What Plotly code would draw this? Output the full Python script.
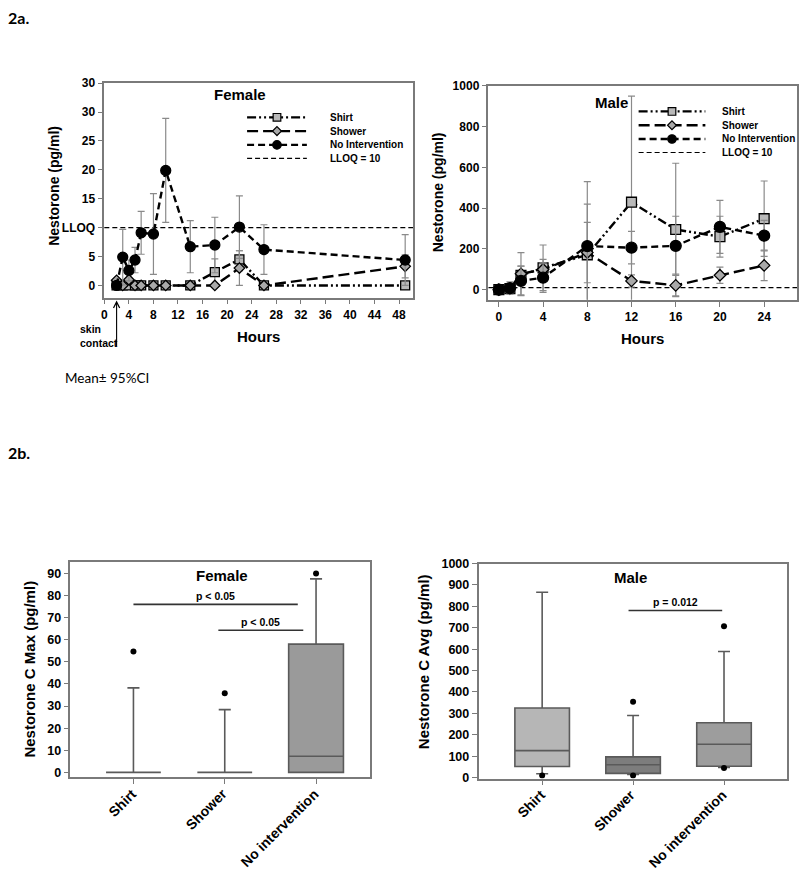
import plotly.graph_objects as go

# ---------------- DATA ----------------
LLOQ = 10
SKIN_CONTACT_H = 2

# 2a Female time course (Mean, 95% CI half-width)
F_HOURS = [2, 3, 4, 5, 6, 8, 10, 14, 18, 22, 26, 49]
F_SHIRT = [0, 0, 0, 0, 0, 0, 0, 0, 2.3, 4.5, 0, 0]
F_SHIRT_CI = [0, 0, 0, 0, 0, 0, 0, 0, 2.3, 1.5, 0, 0]
F_SHOWER = [0.9, 0, 1.0, 0, 0, 0, 0, 0, 0, 3.0, 0, 3.3]
F_SHOWER_CI = [0, 0, 0, 0, 0, 0, 0, 0, 0, 3.0, 0, 2.0]
F_NOINT = [0, 4.9, 2.6, 4.4, 9.1, 8.9, 19.9, 6.7, 7.0, 10.1, 6.2, 4.4]
F_NOINT_CI = [0, 4.8, 1.8, 2.2, 3.7, 7.0, 9.0, 4.5, 4.8, 5.4, 4.3, 4.4]
F_XTICKS = list(range(0, 49, 4))
F_YTICKVALS = [0, 5, 10, 15, 20, 25, 30, 35]
F_YTICKTEXT = ["0", "5", "LLOQ", "15", "20", "25", "30", "30"]

# 2a Male time course
M_HOURS = [0, 1, 2, 4, 8, 12, 16, 20, 24]
M_SHIRT = [0, 5, 70, 107, 171, 429, 295, 260, 348]
M_SHIRT_CI = [0, 20, 45, 112, 249, 520, 325, 100, 185]
M_SHOWER = [0, 5, 78, 99, 182, 43, 21, 71, 119]
M_SHOWER_CI = [0, 20, 104, 50, 148, 30, 55, 40, 75]
M_NOINT = [0, 8, 43, 59, 214, 206, 215, 308, 265]
M_NOINT_CI = [0, 30, 72, 72, 316, 80, 145, 130, 75]
M_XTICKS = [0, 4, 8, 12, 16, 20, 24]
M_YTICKS = [0, 200, 400, 600, 800, 1000]

LEGEND_NAMES = ["Shirt", "Shower", "No Intervention", "LLOQ = 10"]

# 2b box plots
BOX_CATS = ["Shirt", "Shower", "No intervention"]
F_Q1 = [0, 0, 0]
F_MED = [0, 0, 7.3]
F_Q3 = [0, 0, 58]
F_LO = [0, 0, 0]
F_HI = [38.2, 28.4, 87.5]
F_OUT = [[54.7], [35.8], [90]]
F_YTICKS_B = list(range(0, 91, 10))
F_SIG = [(0, 1.8, 76, "p < 0.05"), (0.93, 1.86, 64.3, "p < 0.05")]

M_Q1 = [52, 20, 53]
M_MED = [126, 60, 156]
M_Q3 = [325, 97, 256]
M_LO = [18, 15, 48]
M_HI = [866, 290, 589]
M_OUT = [[10], [354, 10], [707, 45]]
M_YTICKS_B = list(range(0, 1001, 100))
M_SIG = [(0.95, 1.98, 781, "p = 0.012")]

# ---------------- STYLE ----------------
W, H = 800, 870
def px(x): return x / W
def py(y): return 1 - y / H

FONT = "Liberation Sans, Arial, sans-serif"
AXC = "#7a7a7a"
ERRC = "#8a8a8a"

STY = {
    "Shirt": dict(dash="9px,3px,2px,3px,2px,3px", symbol="square", mcolor="#b9b9b9", size=9),
    "Shower": dict(dash="11px,5px", symbol="diamond", mcolor="#a9a9a9", size=8),
    "No Intervention": dict(dash="7px,4px", symbol="circle", mcolor="#000000", size=10),
}
LLOQ_DASH = "5px,3px"

def b(vals):
    return ["<b>%s</b>" % v for v in vals]

fig = go.Figure()

def series(x, y, ci, name, xa, ya, scale=1.0):
    s = STY[name]
    fig.add_trace(go.Scatter(
        x=x, y=y, mode="lines+markers", xaxis=xa, yaxis=ya, showlegend=False,
        line=dict(color="black", width=2.4, dash=s["dash"]),
        marker=dict(symbol=s["symbol"], size=s["size"] * scale, color=s["mcolor"],
                    line=dict(color="black", width=1.3)),
        error_y=dict(type="data", array=ci, visible=True, color=ERRC, thickness=1.2, width=3.5),
    ))

series(F_HOURS, F_SHIRT, F_SHIRT_CI, "Shirt", "x", "y")
series(F_HOURS, F_SHOWER, F_SHOWER_CI, "Shower", "x", "y")
series(F_HOURS, F_NOINT, F_NOINT_CI, "No Intervention", "x", "y")

series(M_HOURS, M_SHIRT, M_SHIRT_CI, "Shirt", "x2", "y2", 1.1)
series(M_HOURS, M_SHOWER, M_SHOWER_CI, "Shower", "x2", "y2", 1.1)
series(M_HOURS, M_NOINT, M_NOINT_CI, "No Intervention", "x2", "y2", 1.1)

shapes = []
for xa, ya in [("x", "y"), ("x2", "y2")]:
    shapes.append(dict(type="line", xref=xa + " domain", x0=0, x1=1, yref=ya, y0=LLOQ, y1=LLOQ,
                       line=dict(color="black", width=1.3, dash=LLOQ_DASH), layer="below"))

# Box plots
F_FILL = ["#bdbdbd", "#bdbdbd", "#9a9a9a"]
M_FILL = ["#b6b6b6", "#7d7d7d", "#9d9d9d"]

def boxes(q1, med, q3, lo, hi, outs, fills, xa, ya):
    for i in range(len(q1)):
        fig.add_trace(go.Box(
            x=[i], q1=[q1[i]], median=[med[i]], q3=[q3[i]], lowerfence=[lo[i]], upperfence=[hi[i]],
            xaxis=xa, yaxis=ya, width=0.6, whiskerwidth=0.22, fillcolor=fills[i],
            line=dict(color="#5a5a5a", width=1.6), boxpoints=False, showlegend=False,
        ))
        fig.add_trace(go.Scatter(
            x=[i] * len(outs[i]), y=outs[i], mode="markers", xaxis=xa, yaxis=ya, showlegend=False,
            marker=dict(color="black", size=6),
        ))

boxes(F_Q1, F_MED, F_Q3, F_LO, F_HI, F_OUT, F_FILL, "x3", "y3")
boxes(M_Q1, M_MED, M_Q3, M_LO, M_HI, M_OUT, M_FILL, "x4", "y4")

annotations = []
def txt(text, x, y, size, bold=True, xanchor="center", angle=0, family=FONT, align="center"):
    annotations.append(dict(text=text, x=px(x), y=py(y), xref="paper", yref="paper", showarrow=False,
                            xanchor=xanchor, yanchor="middle", textangle=angle, align=align,
                            font=dict(family=family, size=size, color="black",
                                      weight="bold" if bold else "normal")))

for (a, c, yv, label), xa, ya in [(s, "x3", "y3") for s in F_SIG] + [(s, "x4", "y4") for s in M_SIG]:
    shapes.append(dict(type="line", xref=xa, yref=ya, x0=a, x1=c, y0=yv, y1=yv,
                       line=dict(color="#333333", width=1.6)))
    annotations.append(dict(text="<b>%s</b>" % label, x=(a + c) / 2, y=yv, xref=xa, yref=ya, showarrow=False,
                            yanchor="bottom", yshift=0,
                            font=dict(family=FONT, size=10.5, color="black")))

# rotated category labels for box plots
for xa, ytop in [("x3", 789), ("x4", 790)]:
    for i, cat in enumerate(BOX_CATS):
        annotations.append(dict(text="<b>%s</b>" % cat, x=i, xref=xa, y=py(ytop), yref="paper",
                                showarrow=False, xanchor="right", yanchor="top", textangle=-45,
                                xshift=7, borderpad=0,
                                font=dict(family=FONT, size=14, color="black")))

# Custom legends (pixel overlay axis)
LEG = [dict(x0=245, x1=305, xt=326, ys=[112, 126, 140, 153.7], scale=0.85),
       dict(x0=638, x1=705, xt=720, ys=[106, 120, 134, 147.7], scale=0.85)]
for lg in LEG:
    for name, yy in zip(LEGEND_NAMES, lg["ys"]):
        if name in STY:
            s = STY[name]
            fig.add_trace(go.Scatter(x=[lg["x0"], lg["x1"]], y=[yy, yy], mode="lines", xaxis="x5", yaxis="y5",
                                     showlegend=False, line=dict(color="black", width=2.4, dash=s["dash"])))
            fig.add_trace(go.Scatter(x=[(lg["x0"] + lg["x1"]) / 2], y=[yy], mode="markers", xaxis="x5",
                                     yaxis="y5", showlegend=False,
                                     marker=dict(symbol=s["symbol"], size=s["size"] * lg["scale"],
                                                 color=s["mcolor"], line=dict(color="black", width=1.2))))
        else:
            fig.add_trace(go.Scatter(x=[lg["x0"], lg["x1"]], y=[yy, yy], mode="lines", xaxis="x5", yaxis="y5",
                                     showlegend=False, line=dict(color="black", width=1.2, dash=LLOQ_DASH)))
        txt(name, lg["xt"], yy, 10, xanchor="left")

# Titles & labels
txt("Female", 238, 89.3, 15)
txt("Male", 610.7, 96.7, 15)
txt("Female", 220, 577, 15)
txt("Male", 630, 579, 15)
txt("Nestorone (pg/ml)", 51.7, 182, 14, angle=-90)
txt("Nestorone (pg/ml)", 436.7, 188, 14, angle=-90)
txt("Nestorone C Max (pg/ml)", 26.7, 672, 15, angle=-90)
txt("Nestorone C Avg (pg/ml)", 421.7, 665, 15, angle=-90)
txt("Hours", 256.7, 335, 15)
txt("Hours", 642, 336.7, 15)
txt("2a.", 3, 11, 16, xanchor="left", family="Lato, Open Sans, sans-serif")
txt("2b.", 3, 452, 16, xanchor="left", family="Lato, Open Sans, sans-serif")
txt("Mean\u00b1 95%CI", 60, 377, 13.5, bold=False, xanchor="left", family="Lato, Open Sans, sans-serif")
txt("skin<br>contact", 75, 334, 10.5, xanchor="left", align="left")

annotations.append(dict(text="", x=SKIN_CONTACT_H, xref="x", y=py(298), yref="paper", showarrow=True,
                        ax=0, ay=47, arrowhead=5, arrowsize=1.1, arrowwidth=1.1, arrowcolor="black"))

tickfont = dict(family=FONT, size=12, color="black")
axbase = dict(showline=True, mirror=True, linecolor=AXC, linewidth=1.5, ticks="outside", ticklen=5,
              tickcolor=AXC, tickwidth=1.2, showgrid=False, zeroline=False, tickfont=tickfont, fixedrange=True)

fig.update_layout(
    width=W, height=H, margin=dict(l=0, r=0, t=0, b=0, pad=0), autosize=False,
    paper_bgcolor="white", plot_bgcolor="rgba(0,0,0,0)", hovermode=False, boxmode="overlay",
    xaxis=dict(axbase, domain=[px(101.7), px(411.7)], range=[0, 50.3], tickvals=F_XTICKS,
               ticktext=b(F_XTICKS), anchor="y"),
    yaxis=dict(axbase, domain=[py(295), py(76.7)], range=[-2.1, 35.1], tickvals=F_YTICKVALS,
               ticktext=b(F_YTICKTEXT), anchor="x"),
    xaxis2=dict(axbase, domain=[px(487.3), px(797.3)], range=[-0.94, 27], tickvals=M_XTICKS,
                ticktext=b(M_XTICKS), anchor="y2"),
    yaxis2=dict(axbase, domain=[py(297.3), py(80)], range=[-50, 1000], tickvals=M_YTICKS,
                ticktext=b(M_YTICKS), anchor="x2"),
    xaxis3=dict(axbase, domain=[px(67.7), px(368.3)], range=[-0.69, 2.59], tickvals=[0, 1, 2],
                showticklabels=False, anchor="y3"),
    yaxis3=dict(axbase, domain=[py(781.7), py(563.3)], range=[-2.1, 95.2], tickvals=F_YTICKS_B,
                ticktext=b(F_YTICKS_B), anchor="x3", tickfont=dict(tickfont, size=12.5)),
    xaxis4=dict(axbase, domain=[px(477.3), px(786.7)], range=[-0.70, 2.69], tickvals=[0, 1, 2],
                showticklabels=False, anchor="y4"),
    yaxis4=dict(axbase, domain=[py(783.3), py(565)], range=[-4.6, 1000], tickvals=M_YTICKS_B,
                ticktext=b(M_YTICKS_B), anchor="x4", tickfont=dict(tickfont, size=12.5)),
    xaxis5=dict(domain=[0, 1], range=[0, W], visible=False, anchor="y5", fixedrange=True),
    yaxis5=dict(domain=[0, 1], range=[H, 0], visible=False, anchor="x5", fixedrange=True),
    shapes=shapes, annotations=annotations,
)

fig.write_html(
    "out.html",
    config={"displayModeBar": False, "responsive": False},
    post_script="document.body.style.margin='0';document.body.style.padding='0';"
                "document.documentElement.style.overflow='hidden';",
)
